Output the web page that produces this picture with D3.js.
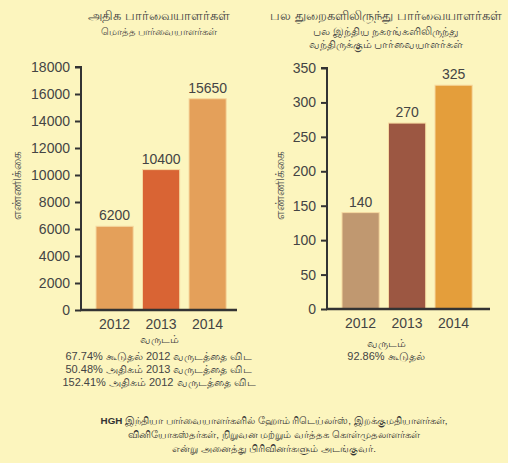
<!DOCTYPE html>
<html>
<head>
<meta charset="utf-8">
<script src="https://cdn.jsdelivr.net/npm/d3@7"></script>
<style>
  body { margin: 0; background: #fcf5be; }
  svg { display: block; font-family: "Liberation Sans", "Noto Sans", sans-serif; }
  .tick text { fill: #444; font-size: 14px; }
</style>
</head>
<body>
<div id="chart"></div>
<script>
/* Two bar charts: visitors per year */

const width = 508, height = 463;

const years = ["2012", "2013", "2014"];
const totalVisitors = [6200, 10400, 15650];
const cityVisitors = [140, 270, 325];
const totalTicks = [0, 2000, 4000, 6000, 8000, 10000, 12000, 14000, 16000, 18000];
const cityTicks = [0, 50, 100, 150, 200, 250, 300, 350];
const leftColors = ["#e4a05a", "#d96434", "#e4a05a"];
const rightColors = ["#c09870", "#9c5742", "#e49e3b"];

const leftTitle = ["அதிக பார்வையாளர்கள்", "மொத்த பார்வையாளர்கள்"];
const rightTitle = ["பல துறைகளிலிருந்து பார்வையாளர்கள்", "பல இந்திய நகரங்களிலிருந்து", "வந்திருக்கும் பார்வையாளர்கள்"];
const yLabel = "எண்ணிக்கை";
const xLabel = "வருடம்";
const leftNotes = ["67.74% கூடுதல் 2012 வருடத்தை விட", "50.48% அதிகம் 2013 வருடத்தை விட", "152.41% அதிகம் 2012 வருடத்தை விட"];
const rightNotes = ["92.86% கூடுதல்"];
const footNote = ["இந்தியா பார்வையாளர்களில் ஹோம் ரிடெய்லர்ஸ், இறக்குமதியாளர்கள்,",
  "வினியோகஸ்தர்கள், நிறுவன மற்றும் வர்த்தக கொள்முதலாளர்கள்",
  "என்று அனைத்து பிரிவினர்களும் அடங்குவர்."];

const svg = d3.select("#chart")
  .append("svg")
  .attr("width", width)
  .attr("height", height);

function drawChart(opt) {
  const x = d3.scaleBand()
    .domain(years)
    .range(opt.xRange)
    .paddingInner(0.2)
    .paddingOuter(0.2);

  const y = d3.scaleLinear()
    .domain([0, opt.max])
    .range(opt.yRange);

  // bars
  svg.append("g").selectAll("rect")
    .data(opt.values)
    .join("rect")
    .attr("x", (d, i) => x(years[i]))
    .attr("y", d => y(d))
    .attr("width", x.bandwidth())
    .attr("height", d => y(0) - y(d))
    .attr("fill", (d, i) => opt.colors[i])
    .attr("stroke", "#f6d9a0")
    .attr("stroke-width", 1);

  // value labels
  svg.append("g").selectAll("text")
    .data(opt.values)
    .join("text")
    .attr("x", (d, i) => x(years[i]) + x.bandwidth() / 2)
    .attr("y", d => y(d) - 6)
    .attr("text-anchor", "middle")
    .attr("fill", "#444")
    .attr("font-size", 14)
    .text(d => d);

  // y axis
  const yAxis = svg.append("g")
    .attr("transform", `translate(${opt.axisX},0)`)
    .call(d3.axisLeft(y).tickValues(opt.ticks).tickFormat(d3.format("d"))
      .tickSizeOuter(0).tickSize(6).tickPadding(5));
  yAxis.select(".domain").attr("stroke", "#333").attr("stroke-width", 2)
    .attr("d", `M-6,${y(opt.max)}H0V${y(0)}`);
  yAxis.selectAll(".tick line").attr("stroke", "#333").attr("stroke-width", 2);

  // x axis line + labels
  svg.append("line")
    .attr("x1", opt.axisX - 1)
    .attr("x2", opt.xEnd)
    .attr("y1", y(0))
    .attr("y2", y(0))
    .attr("stroke", "#333")
    .attr("stroke-width", 2.5);

  svg.append("g").selectAll("text")
    .data(years)
    .join("text")
    .attr("x", d => x(d) + x.bandwidth() / 2)
    .attr("y", y(0) + 19)
    .attr("text-anchor", "middle")
    .attr("fill", "#444")
    .attr("font-size", 14)
    .text(d => d);

  // rotated y label
  svg.append("text")
    .attr("transform", `translate(${opt.yLabelX},${opt.yLabelY}) rotate(-90)`)
    .attr("text-anchor", "middle")
    .attr("fill", "#555")
    .attr("font-size", 12)
    .text(yLabel);

  // titles
  svg.append("g").selectAll("text")
    .data(opt.title)
    .join("text")
    .attr("x", opt.cx)
    .attr("y", (d, i) => i == 0 ? 20 : 20 + opt.subGap + (i - 1) * 13)
    .attr("text-anchor", "middle")
    .attr("fill", "#444")
    .attr("font-size", (d, i) => i == 0 ? 13 : opt.subSize[i - 1])
    .text(d => d);

  // notes under the chart
  svg.append("g").selectAll("text")
    .data([xLabel].concat(opt.notes))
    .join("text")
    .attr("x", opt.cx)
    .attr("y", (d, i) => opt.noteY + (i == 0 ? 0 : opt.noteGap + (i - 1) * 13))
    .attr("text-anchor", "middle")
    .attr("fill", "#444")
    .attr("font-size", 11)
    .text(d => d);
}

drawChart({
  values: totalVisitors, colors: leftColors, ticks: totalTicks, max: 18000,
  xRange: [86.7, 235.5], yRange: [310, 67], axisX: 81, xEnd: 237,
  yLabelX: 21, yLabelY: 185, cx: 159, title: leftTitle, subGap: 15, subSize: [10.4],
  notes: leftNotes, noteY: 343, noteGap: 17
});

drawChart({
  values: cityVisitors, colors: rightColors, ticks: cityTicks, max: 350,
  xRange: [332.7, 481.5], yRange: [309, 68], axisX: 327, xEnd: 490,
  yLabelX: 284, yLabelY: 185, cx: 386, title: rightTitle, subGap: 15, subSize: [10.5, 10.5],
  notes: rightNotes, noteY: 347, noteGap: 13
});

// footnote
const foot = svg.append("g")
  .attr("fill", "#333")
  .attr("font-size", 9.8)
  .attr("text-anchor", "middle");

foot.selectAll("text")
  .data(footNote)
  .join("text")
  .attr("x", 274)
  .attr("y", (d, i) => 424 + i * 14)
  .each(function (d, i) {
    const t = d3.select(this);
    if (i == 0) t.append("tspan").attr("font-weight", "bold").text("HGH ");
    t.append("tspan").text(d);
  });
</script>
</body>
</html>
